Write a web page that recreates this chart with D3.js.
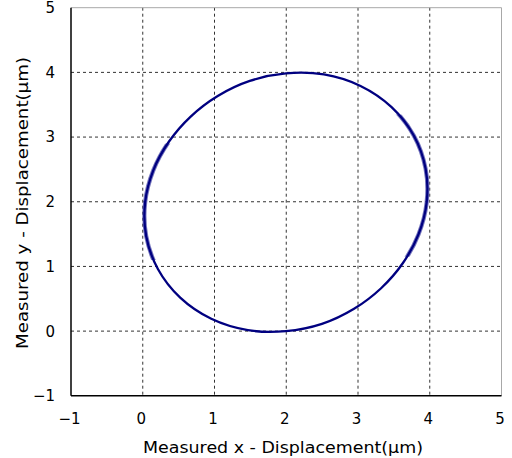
<!DOCTYPE html>
<html>
<head>
<meta charset="utf-8">
<script src="https://cdn.jsdelivr.net/npm/d3@7"></script>
<style>
  body { margin: 0; background: #fff; }
  svg { display: block; }
  text { font-family: "DejaVu Sans", "Liberation Sans", sans-serif; fill: #000; }
</style>
</head>
<body>
<svg id="chart" width="512" height="458"></svg>
<script>
// measured trace, every ~15 degrees round the loop (µm)
const traceX = [3.957, 3.942, 3.779, 3.468, 3.035, 2.525, 1.995, 1.492, 1.045, 0.668, 0.366, 0.147,
                0.033, 0.048, 0.211, 0.522, 0.955, 1.465, 1.995, 2.498, 2.945, 3.322, 3.624, 3.843];
const traceY = [1.990, 2.512, 3.020, 3.463, 3.790, 3.968, 3.985, 3.868, 3.635, 3.317, 2.931, 2.485,
                1.990, 1.468, 0.960, 0.517, 0.190, 0.015, 0.000, 0.112, 0.345, 0.663, 1.049, 1.495];
// boxes (x0, x1, y0, y1) where the trace is noisier / thicker
const noisyBoxes = [[-1, 0.5, 1.1, 2.9], [3.45, 5, 1.15, 3.35]];
const xTicks = [-1, 0, 1, 2, 3, 4, 5];
const yTicks = [-1, 0, 1, 2, 3, 4, 5];
const xTitle = "Measured x - Displacement(μm)";
const yTitle = "Measured y - Displacement(μm)";

const svg = d3.select("#chart");
const x = d3.scaleLinear().domain([-1, 5]).range([71, 501.5]);
const y = d3.scaleLinear().domain([-1, 5]).range([395.8, 7.7]);

// dashed grid (inner lines only)
const grid = svg.append("g").attr("class", "grid");
grid.selectAll("line.vx")
    .data(xTicks.slice(1, -1))
    .join("line")
    .attr("class", "vx")
    .attr("x1", d => x(d)).attr("x2", d => x(d))
    .attr("y1", y(5)).attr("y2", y(-1))
    .attr("stroke", "#333").attr("stroke-width", 1)
    .attr("stroke-dasharray", "3,3");
grid.selectAll("line.hy")
    .data(yTicks.slice(1, -1))
    .join("line")
    .attr("class", "hy")
    .attr("x1", x(-1)).attr("x2", x(5))
    .attr("y1", d => y(d)).attr("y2", d => y(d))
    .attr("stroke", "#333").attr("stroke-width", 1)
    .attr("stroke-dasharray", "3,3");

// frame: light top/right, black left/bottom
svg.append("line")
    .attr("x1", x(-1)).attr("x2", x(5)).attr("y1", y(5)).attr("y2", y(5))
    .attr("stroke", "#a8a8a8");
svg.append("line")
    .attr("x1", x(5)).attr("x2", x(5)).attr("y1", y(5)).attr("y2", y(-1))
    .attr("stroke", "#a8a8a8");
svg.append("line")
    .attr("x1", x(-1)).attr("x2", x(-1)).attr("y1", y(5)).attr("y2", y(-1))
    .attr("stroke", "#000").attr("stroke-width", 1.5);
svg.append("line")
    .attr("x1", x(-1)).attr("x2", x(5)).attr("y1", y(-1)).attr("y2", y(-1))
    .attr("stroke", "#000").attr("stroke-width", 1.5);

// clip for the thicker (noisy) stretches
const clip = svg.append("defs").append("clipPath").attr("id", "noisy");
clip.selectAll("rect")
    .data(noisyBoxes)
    .join("rect")
    .attr("x", d => x(d[0]))
    .attr("width", d => x(d[1]) - x(d[0]))
    .attr("y", d => y(d[3]))
    .attr("height", d => y(d[2]) - y(d[3]));

// trace
const pts = traceX.map((v, i) => [v, traceY[i]]);
const line = d3.line().x(d => x(d[0])).y(d => y(d[1])).curve(d3.curveCatmullRomClosed);

svg.append("path")
    .datum(pts)
    .attr("d", line)
    .attr("clip-path", "url(#noisy)")
    .attr("fill", "none")
    .attr("stroke", "#4a4aa8")
    .attr("stroke-opacity", 0.75)
    .attr("stroke-width", 4.2);
svg.append("path")
    .datum(pts)
    .attr("d", line)
    .attr("fill", "none")
    .attr("stroke", "#000080")
    .attr("stroke-width", 2.3);

// tick labels
const fmt = d => d < 0 ? "\u2212" + Math.abs(d) : String(d);
svg.append("g").selectAll("text")
    .data(xTicks)
    .join("text")
    .attr("x", d => x(d) - 1.5)
    .attr("y", 424)
    .attr("text-anchor", "middle")
    .attr("font-size", 15)
    .text(fmt);
svg.append("g").selectAll("text")
    .data(yTicks)
    .join("text")
    .attr("x", 55)
    .attr("y", d => y(d))
    .attr("dy", "0.36em")
    .attr("text-anchor", "end")
    .attr("font-size", 15)
    .text(fmt);

// axis titles
svg.append("text")
    .attr("x", 283)
    .attr("y", 453)
    .attr("text-anchor", "middle")
    .attr("font-size", 16)
    .attr("textLength", 280)
    .attr("lengthAdjust", "spacingAndGlyphs")
    .text(xTitle);
svg.append("text")
    .attr("transform", "translate(28,203) rotate(-90)")
    .attr("text-anchor", "middle")
    .attr("font-size", 16)
    .attr("textLength", 292)
    .attr("lengthAdjust", "spacingAndGlyphs")
    .text(yTitle);
</script>
</body>
</html>
